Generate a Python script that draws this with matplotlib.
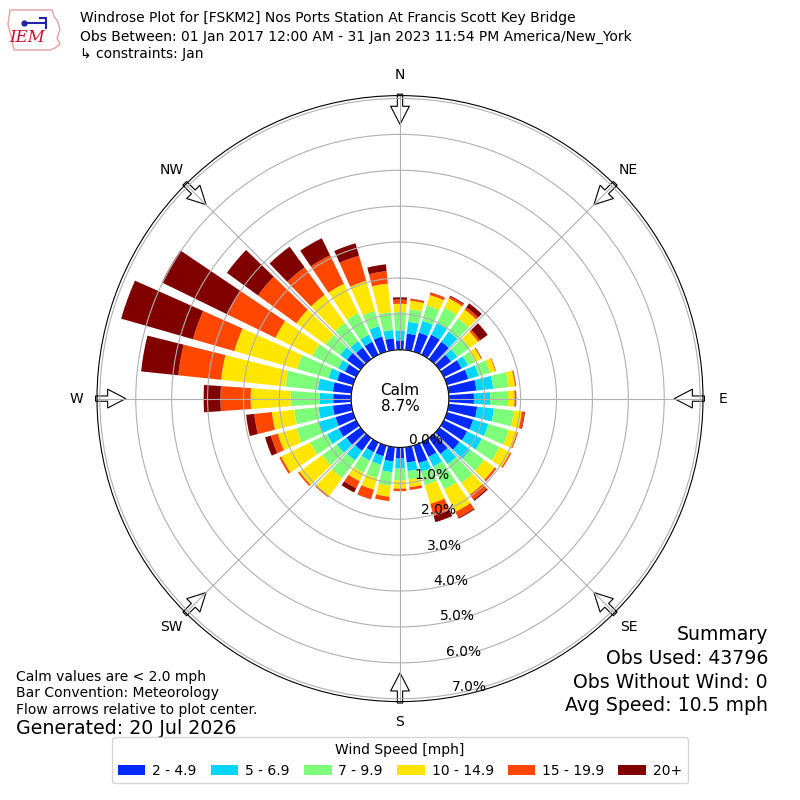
import matplotlib
matplotlib.use('Agg')
import matplotlib.pyplot as plt
import numpy as np

# wind direction bins (deg, direction wind blows from)
directions = np.arange(0, 360, 10)
compass = ['N', 'NE', 'E', 'SE', 'S', 'SW', 'W', 'NW']
speed_labels = ['2 - 4.9', '5 - 6.9', '7 - 9.9', '10 - 14.9', '15 - 19.9', '20+']
calm_pct = 8.7

# frequency [%] of each speed class per direction bin
spd_2_5 = [0.26, 0.46, 0.55, 0.62, 0.60, 0.40, 0.55, 0.62, 0.78, 0.70,
           0.80, 0.76, 0.72, 0.69, 0.55, 0.45, 0.51, 0.43, 0.31, 0.40,
           0.31, 0.30, 0.44, 0.49, 0.54, 0.51, 0.52, 0.50, 0.52, 0.46,
           0.35, 0.47, 0.40, 0.40, 0.44, 0.33]
spd_5_7 = [0.28, 0.33, 0.34, 0.36, 0.35, 0.22, 0.20, 0.30, 0.47, 0.45,
           0.47, 0.44, 0.46, 0.37, 0.35, 0.30, 0.25, 0.24, 0.28, 0.30,
           0.25, 0.26, 0.33, 0.32, 0.36, 0.49, 0.40, 0.38, 0.42, 0.25,
           0.21, 0.23, 0.22, 0.22, 0.30, 0.23]
spd_7_10 = [0.51, 0.35, 0.45, 0.48, 0.45, 0.42, 0.22, 0.33, 0.43, 0.50,
            0.56, 0.59, 0.54, 0.48, 0.65, 0.70, 0.39, 0.24, 0.33, 0.38,
            0.39, 0.38, 0.60, 0.51, 0.52, 0.64, 0.68, 0.81, 0.91, 0.91,
            0.79, 0.50, 0.63, 0.67, 0.44, 0.50]
spd_10_15 = [0.23, 0.24, 0.30, 0.28, 0.30, 0.29, 0.18, 0.15, 0.18, 0.18,
             0.22, 0.24, 0.33, 0.36, 0.40, 0.70, 0.54, 0.21, 0.23, 0.31,
             0.33, 0.26, 0.63, 0.78, 0.90, 0.54, 0.63, 1.11, 1.80, 1.82,
             1.15, 1.01, 0.96, 0.91, 0.87, 0.80]
spd_15_20 = [0.12, 0.05, 0.07, 0.06, 0.08, 0.07, 0.03, 0.02, 0.02, 0.04,
             0.07, 0.03, 0.04, 0.05, 0.17, 0.18, 0.35, 0.08, 0.07, 0.12,
             0.27, 0.22, 0.04, 0.05, 0.06, 0.20, 0.49, 0.84, 1.20, 1.20,
             1.50, 1.32, 0.95, 0.88, 0.73, 0.35]
spd_20p = [0.06, 0.01, 0.01, 0.03, 0.14, 0.26, 0.00, 0.00, 0.01, 0.01,
           0.02, 0.00, 0.00, 0.01, 0.04, 0.03, 0.18, 0.00, 0.00, 0.00,
           0.01, 0.13, 0.00, 0.00, 0.00, 0.17, 0.23, 0.47, 1.04, 2.08,
           2.02, 1.07, 0.71, 0.53, 0.36, 0.19]

classes = [spd_2_5, spd_5_7, spd_7_10, spd_10_15, spd_15_20, spd_20p]
colors = plt.get_cmap('jet')(np.linspace(1 / 6., 1, 6))

fig = plt.figure(figsize=(8, 8), dpi=100)
ax = fig.add_axes([0.12125, 0.123, 0.7575, 0.7575], projection='polar')
ax.set_theta_zero_location('N')
ax.set_theta_direction(-1)

theta = np.deg2rad(directions)
bottom = np.zeros(len(directions))
for vals, col, lbl in zip(classes, colors, speed_labels):
    ax.bar(theta, vals, width=np.deg2rad(8), bottom=bottom, color=col,
           label=lbl, linewidth=0, align='center')
    bottom = bottom + np.array(vals)

ax.set_rorigin(-1.36)
ax.set_ylim(0, 7.08)
ax.set_rgrids(np.arange(0, 8), labels=['%.1f%%' % v for v in range(8)],
              angle=170, fontsize=10)
ax.set_thetagrids(np.arange(0, 360, 45), labels=compass, fontsize=10)
ax.tick_params(axis='x', pad=4)
ax.grid(True, color='#b0b0b0', lw=0.8)

# flow arrows on the rim, pointing at the centre
for ang in np.arange(0, 360, 45):
    t = np.deg2rad(ang)
    ax.annotate('', xy=(t, 6.28), xytext=(t, 7.12),
                arrowprops=dict(arrowstyle='simple,head_length=1.3,head_width=1.35,tail_width=0.38',
                                fc='white', ec='black', lw=0.8,
                                shrinkA=0, shrinkB=0, mutation_scale=10),
                annotation_clip=False, zorder=1.2)

ax.text(0, -1.36, 'Calm\n%.1f%%' % calm_pct, ha='center', va='center',
        fontsize=11, linespacing=1.1)

# header
fig.text(0.1, 1 - 18 / 800., 'Windrose Plot for [FSKM2] Nos Ports Station At Francis Scott Key Bridge',
         fontsize=10, va='center')
fig.text(0.1, 1 - 37 / 800., 'Obs Between: 01 Jan 2017 12:00 AM - 31 Jan 2023 11:54 PM America/New_York',
         fontsize=10, va='center')
fig.text(0.1, 1 - 54 / 800., '\u21b3 constraints: Jan', fontsize=10, va='center')

# rough IEM logo
logo_x = [10, 52, 54, 58, 60, 57, 60, 55, 50, 14, 12, 8, 10]
logo_y = [10, 10, 16, 22, 30, 38, 44, 48, 50, 50, 40, 24, 10]
fig.add_artist(plt.Polygon(np.column_stack([np.array(logo_x) / 800., 1 - np.array(logo_y) / 800.]),
                           closed=True, fill=False, ec='#e8a0a0', lw=1.0,
                           transform=fig.transFigure))
fig.add_artist(plt.Line2D(np.array([24, 44]) / 800., 1 - np.array([23, 23]) / 800.,
                          color='#2222aa', lw=1.5, transform=fig.transFigure))
fig.add_artist(plt.Line2D(np.array([40, 46, 46]) / 800., 1 - np.array([18, 18, 28]) / 800.,
                          color='#2222aa', lw=1.5, transform=fig.transFigure))
fig.add_artist(plt.Line2D([24 / 800.], [1 - 23 / 800.], marker='o', ms=3.5,
                          color='#2222aa', transform=fig.transFigure))
fig.text(0.034, 1 - 38 / 800., 'IEM', color='#c8102e', fontsize=12,
         family='serif', style='italic', ha='center', va='center')

# footer notes
fig.text(0.02, 1 - 677 / 800., 'Calm values are < 2.0 mph', fontsize=10, va='center')
fig.text(0.02, 1 - 693 / 800., 'Bar Convention: Meteorology', fontsize=10, va='center')
fig.text(0.02, 1 - 710 / 800., 'Flow arrows relative to plot center.', fontsize=10, va='center')
fig.text(0.02, 1 - 729 / 800., 'Generated: 20 Jul 2026', fontsize=13.7, va='center')

summary = ['Summary', 'Obs Used: 43796', 'Obs Without Wind: 0', 'Avg Speed: 10.5 mph']
for i, line in enumerate(summary):
    fig.text(0.96, 1 - (635 + 23.5 * i) / 800., line, fontsize=13.6, ha='right', va='center')

fig.legend(loc='lower center', bbox_to_anchor=(0.5, 0.012), ncol=6,
           title='Wind Speed [mph]', fontsize=10, title_fontsize=10,
           handlelength=2.0, handletextpad=0.5, columnspacing=1.0)

fig.savefig('out.png', dpi=100)
